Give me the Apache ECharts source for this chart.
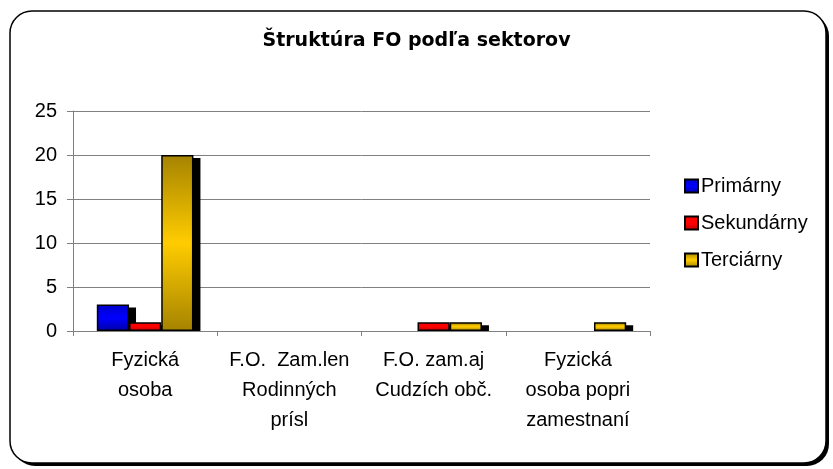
<!DOCTYPE html>
<html>
<head>
<meta charset="utf-8">
<script src="https://cdn.jsdelivr.net/npm/echarts@6/dist/echarts.min.js"></script>
<style>
  html, body { margin: 0; padding: 0; background: #fff; }
  #chart { width: 833px; height: 469px; }
</style>
</head>
<body>
<div id="chart"></div>
<script>
const categories = [
  'Fyzická\nosoba',
  'F.O.  Zam.len\nRodinných\nprísl',
  'F.O. zam.aj\nCudzích obč.',
  'Fyzická\nosoba popri\nzamestnaní'
]
const seriesNames = ['Primárny', 'Sekundárny', 'Terciárny']
const primarny = [3, 0, 0, 0]
const sekundarny = [1, 0, 1, 0]
const terciarny = [20, 0, 1, 1]
const yTicks = [0, 5, 10, 15, 20, 25]

const FONT = '"Liberation Sans", Arial, sans-serif'
const CAT_GAP = 0.33
const allValues = [primarny, sekundarny, terciarny]

function grad(stops) {
  return new echarts.graphic.LinearGradient(0, 0, 0, 1,
    stops.map(s => ({ offset: s[0], color: s[1] })))
}

// zero values are not drawn in the original
function noZero(arr) {
  return arr.map(v => (v === 0 ? '-' : v))
}

function barSeries(name, data, fill) {
  return {
    name: name,
    type: 'bar',
    z: 3,
    data: noZero(data),
    barGap: 0,
    barCategoryGap: CAT_GAP * 100 + '%',
    itemStyle: { color: fill, borderColor: '#000', borderWidth: 1.5 }
  }
}

// the black "depth" behind each bar: [category, value, series index]
const shadowData = []
allValues.forEach((arr, k) => {
  arr.forEach((v, i) => { if (v !== 0) shadowData.push([i, v, k]) })
})

function renderShadow(params, api) {
  const cat = api.value(0)
  const k = api.value(2)
  const band = api.size([1, 0])[0]
  const used = band * (1 - CAT_GAP)
  const barW = used / allValues.length
  const base = api.coord([cat, 0])
  const top = api.coord([cat, api.value(1)])
  const x = base[0] - used / 2 + k * barW
  return {
    type: 'rect',
    shape: { x: x + 7, y: top[1] + 3, width: barW, height: base[1] - top[1] - 3 },
    style: { fill: '#000' }
  }
}

const chart = echarts.init(document.getElementById('chart'))
chart.setOption({
  backgroundColor: '#fff',
  animation: false,
  graphic: [
    {
      type: 'rect',
      z: -101,
      silent: true,
      shape: { x: 13, y: 14, width: 816, height: 452, r: 22 },
      style: { fill: '#000' }
    },
    {
      type: 'rect',
      z: -100,
      silent: true,
      shape: { x: 10, y: 11, width: 816, height: 452, r: 22 },
      style: { fill: '#fff', stroke: '#000', lineWidth: 1.5 }
    }
  ],
  title: {
    text: 'Štruktúra FO podľa sektorov',
    left: 'center',
    top: 27,
    textStyle: {
      fontFamily: '"DejaVu Sans", sans-serif',
      fontWeight: 'bold',
      fontSize: 19,
      color: '#000'
    }
  },
  legend: {
    data: seriesNames,
    orient: 'vertical',
    left: 679,
    top: 171,
    itemWidth: 13,
    itemHeight: 13,
    itemGap: 17,
    icon: 'rect',
    textStyle: { fontFamily: FONT, fontSize: 20, color: '#000', padding: [0, 0, 0, -2] }
  },
  grid: { left: 73, right: 183, top: 111, bottom: 138 },
  xAxis: {
    type: 'category',
    data: categories,
    axisLine: { lineStyle: { color: '#808080', width: 1 } },
    axisTick: { show: true, length: 5, lineStyle: { color: '#808080' } },
    axisLabel: {
      interval: 0,
      margin: 14,
      fontFamily: FONT,
      fontSize: 20,
      lineHeight: 30,
      color: '#000',
      align: 'center'
    }
  },
  yAxis: {
    type: 'value',
    min: yTicks[0],
    max: yTicks[yTicks.length - 1],
    interval: yTicks[1] - yTicks[0],
    axisLine: { show: true, lineStyle: { color: '#808080', width: 1 } },
    axisTick: { show: true, length: 6, lineStyle: { color: '#808080' } },
    splitLine: { lineStyle: { color: '#808080', width: 1 } },
    axisLabel: { margin: 16, fontFamily: FONT, fontSize: 20, color: '#000' }
  },
  series: [
    {
      name: 'shadow',
      type: 'custom',
      z: 2,
      silent: true,
      renderItem: renderShadow,
      data: shadowData
    },
    barSeries(seriesNames[0], primarny,
      grad([[0, '#0000c8'], [0.5, '#0000ff'], [1, '#0000a8']])),
    barSeries(seriesNames[1], sekundarny,
      grad([[0, '#ff0000'], [0.5, '#ff0000'], [1, '#c00000']])),
    barSeries(seriesNames[2], terciarny,
      grad([[0, '#a58300'], [0.5, '#ffcc00'], [1, '#a58300']]))
  ]
})
</script>
</body>
</html>
